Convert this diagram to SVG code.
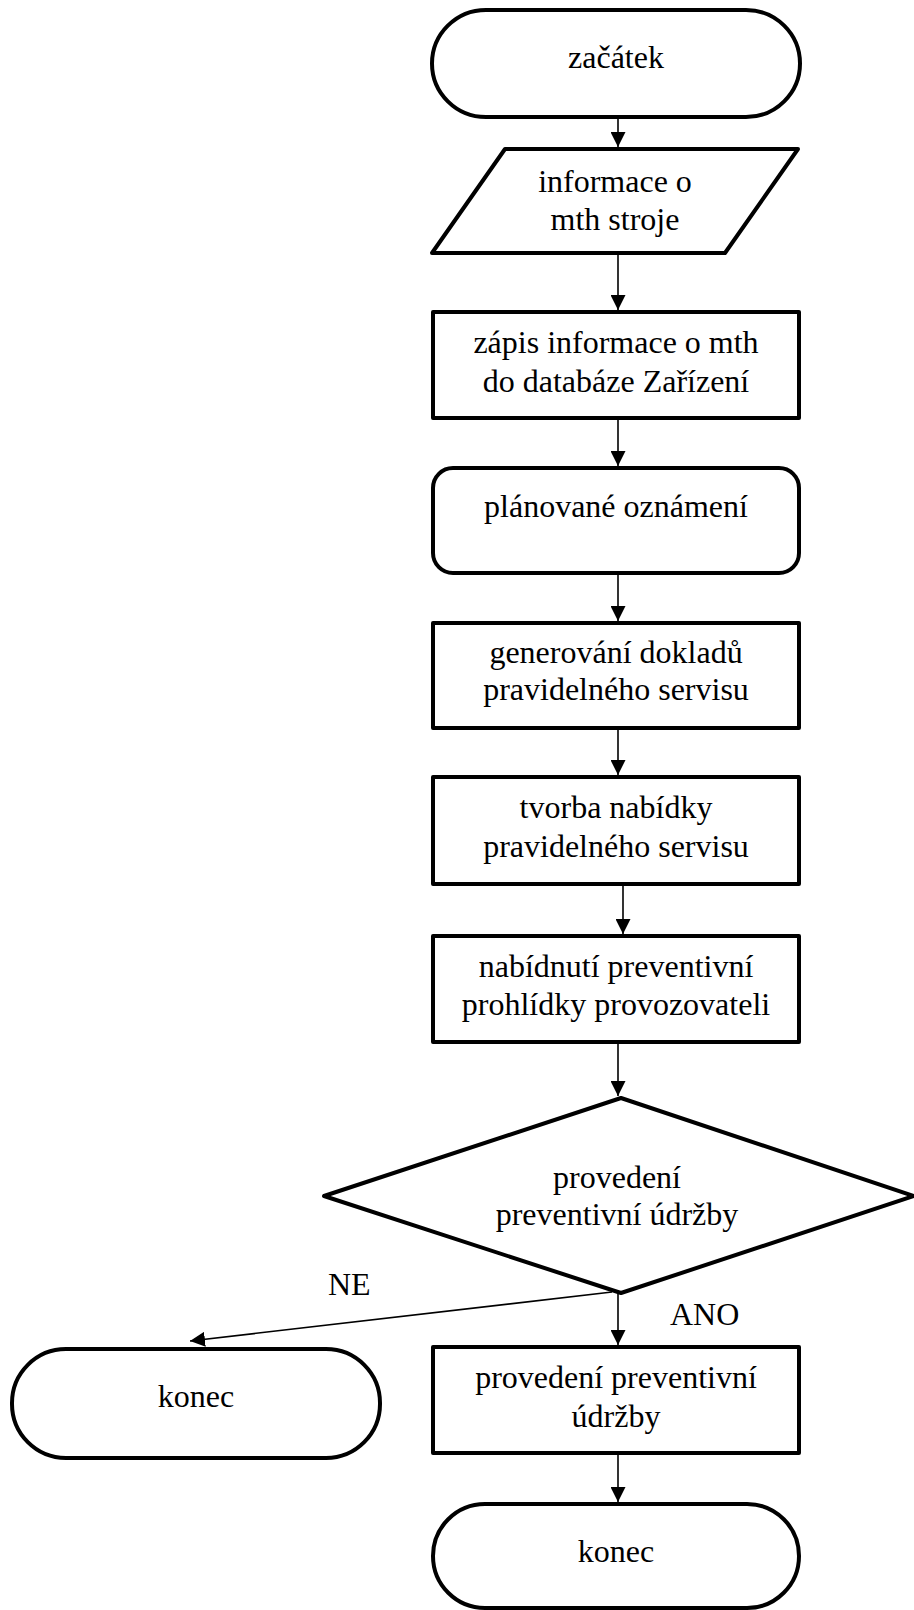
<svg xmlns="http://www.w3.org/2000/svg" width="914" height="1610" viewBox="0 0 914 1610">
  <style>
    .shape { fill: #ffffff; stroke: #000000; stroke-width: 4; stroke-linejoin: round; }
    .edge { fill: none; stroke: #000000; stroke-width: 1.6; }
    .lbl { font-family: "Liberation Serif", "Times New Roman", serif; font-size: 32px; fill: #000000; text-anchor: middle; }
    .tag { font-family: "Liberation Serif", "Times New Roman", serif; font-size: 32px; fill: #000000; }
  </style>
  <defs>
    <marker id="arrow" markerUnits="userSpaceOnUse" markerWidth="15" markerHeight="15" refX="15" refY="7.5" orient="auto">
      <path d="M0,0 L15,7.5 L0,15 z" fill="#000000"/>
    </marker>
  </defs>
  <rect width="914" height="1610" fill="#ffffff"/>

  <!-- connectors -->
  <g id="connectors">
    <line class="edge" x1="618" y1="117" x2="618" y2="147" marker-end="url(#arrow)"/>
    <line class="edge" x1="618" y1="253" x2="618" y2="310" marker-end="url(#arrow)"/>
    <line class="edge" x1="618" y1="418" x2="618" y2="466" marker-end="url(#arrow)"/>
    <line class="edge" x1="618" y1="573" x2="618" y2="621" marker-end="url(#arrow)"/>
    <line class="edge" x1="618" y1="728" x2="618" y2="775" marker-end="url(#arrow)"/>
    <line class="edge" x1="623" y1="884" x2="623" y2="934" marker-end="url(#arrow)"/>
    <line class="edge" x1="618" y1="1042" x2="618" y2="1096" marker-end="url(#arrow)"/>
    <line class="edge" x1="618" y1="1293" x2="618" y2="1345" marker-end="url(#arrow)"/>
    <line class="edge" x1="612" y1="1292" x2="190" y2="1341" marker-end="url(#arrow)"/>
    <line class="edge" x1="618" y1="1452" x2="618" y2="1502" marker-end="url(#arrow)"/>
  </g>

  <g id="start">
    <rect class="shape" x="432" y="10" width="368" height="107" rx="54" ry="54"/>
    <text class="lbl" x="616" y="68">začátek</text>
  </g>

  <g id="input-info">
    <polygon class="shape" points="505,149 798,149 725,253 432,253"/>
    <text class="lbl" x="615" y="192">informace o</text>
    <text class="lbl" x="615" y="230">mth stroje</text>
  </g>

  <g id="write-db">
    <rect class="shape" x="433" y="312" width="366" height="106"/>
    <text class="lbl" x="616" y="353">zápis informace o mth</text>
    <text class="lbl" x="616" y="392">do databáze Zařízení</text>
  </g>

  <g id="planned-notice">
    <rect class="shape" x="433" y="468" width="366" height="105" rx="20" ry="20"/>
    <text class="lbl" x="616" y="517">plánované oznámení</text>
  </g>

  <g id="generate-docs">
    <rect class="shape" x="433" y="623" width="366" height="105"/>
    <text class="lbl" x="616" y="663">generování dokladů</text>
    <text class="lbl" x="616" y="700">pravidelného servisu</text>
  </g>

  <g id="create-offer">
    <rect class="shape" x="433" y="777" width="366" height="107"/>
    <text class="lbl" x="616" y="818">tvorba nabídky</text>
    <text class="lbl" x="616" y="857">pravidelného servisu</text>
  </g>

  <g id="offer-inspection">
    <rect class="shape" x="433" y="936" width="366" height="106"/>
    <text class="lbl" x="616" y="977">nabídnutí preventivní</text>
    <text class="lbl" x="616" y="1015">prohlídky provozovateli</text>
  </g>

  <g id="decision">
    <polygon class="shape" points="621,1098 914,1196 621,1293 324,1196"/>
    <text class="lbl" x="617" y="1188">provedení</text>
    <text class="lbl" x="617" y="1225">preventivní údržby</text>
  </g>

  <g id="end-no">
    <rect class="shape" x="12" y="1349" width="368" height="109" rx="54" ry="54"/>
    <text class="lbl" x="196" y="1407">konec</text>
  </g>

  <g id="maintenance">
    <rect class="shape" x="433" y="1347" width="366" height="106"/>
    <text class="lbl" x="616" y="1388">provedení preventivní</text>
    <text class="lbl" x="616" y="1427">údržby</text>
  </g>

  <g id="end-yes">
    <rect class="shape" x="433" y="1504" width="366" height="104" rx="52" ry="52"/>
    <text class="lbl" x="616" y="1562">konec</text>
  </g>

  <!-- branch labels -->
  <g id="labels">
    <text class="tag" x="328" y="1295">NE</text>
    <rect x="648" y="1287" width="114" height="58" fill="#ffffff"/>
    <text class="tag" x="670" y="1325">ANO</text>
  </g>
</svg>
